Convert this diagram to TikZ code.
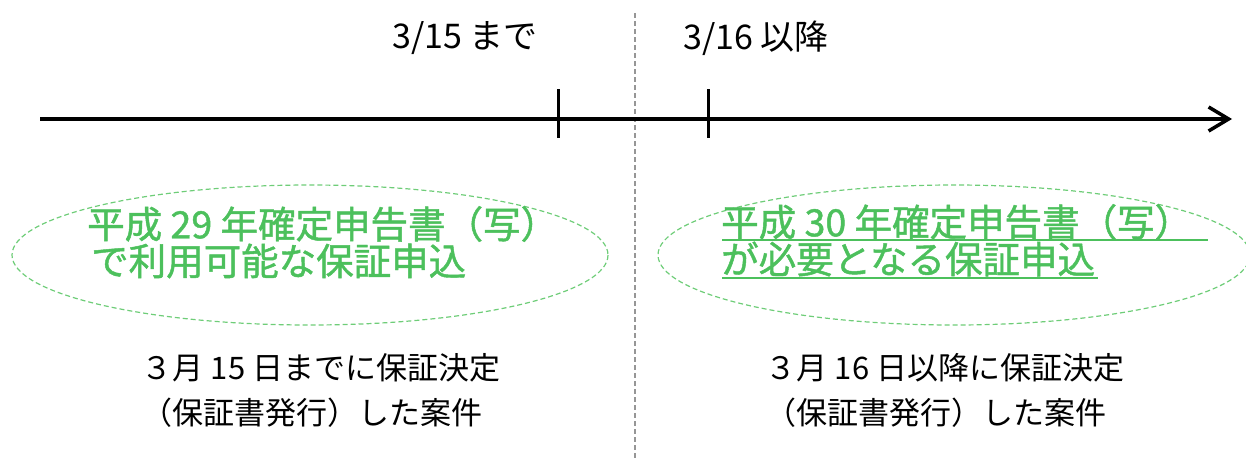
\documentclass[tikz,border=0pt]{standalone}
\usepackage{fontspec}
\setmainfont{Noto Sans CJK JP}
\newfontfamily\jpbold{Noto Sans CJK JP}[FakeBold=1.2]
\usetikzlibrary{arrows.meta}
\definecolor{tgreen}{RGB}{76,192,92}
\definecolor{egreen}{RGB}{110,205,120}
\definecolor{divgray}{RGB}{150,150,150}
\tikzset{
  axisline/.style={line width=3.5pt, -{Straight Barb[length=20pt,width=24pt,line width=3.5pt]}},
  tickline/.style={line width=3pt},
  divider/.style={draw=divgray, line width=1.5pt, dash pattern=on 5pt off 3pt},
  bubble/.style={draw=egreen, line width=1.2pt, dash pattern=on 5pt off 3pt},
  datelabel/.style={font=\fontsize{34}{34}\selectfont, text=black, inner sep=0pt},
  greentext/.style={font=\jpbold\fontsize{37.5}{37.5}\selectfont, text=tgreen, inner sep=0pt, anchor=west},
  casetext/.style={font=\fontsize{31}{31}\selectfont, text=black, inner sep=0pt},
  uline/.style={draw=tgreen, line width=2.5pt}
}
\begin{document}
\begin{tikzpicture}[x=1pt,y=-1pt]
\useasboundingbox (0,0) rectangle (1246,459);
% divider
\coordinate (dtop) at (635,13);
\coordinate (dbot) at (635,459);
\draw[divider] (dtop) -- (dbot);
% axis
\coordinate (astart) at (40,119);
\coordinate (aend) at (1232,119);
\draw[axisline] (astart) -- (aend);
\coordinate (t1a) at (558,89); \coordinate (t1b) at (558,138);
\coordinate (t2a) at (708,89); \coordinate (t2b) at (708,138);
\draw[tickline] (t1a) -- (t1b);
\draw[tickline] (t2a) -- (t2b);
% date labels
\node[datelabel] (d1) at (465,38) {3/15 まで};
\node[datelabel] (d2) at (756,38) {3/16 以降};
% ellipses
\draw[bubble] (310,255) ellipse [x radius=298, y radius=70];
\draw[bubble] (954,255) ellipse [x radius=296, y radius=70];
% green texts left
\node[greentext] (g1) at (87,224) {平成 29 年確定申告書（写）};
\node[greentext] (g2) at (91,261) {で利用可能な保証申込};
% green texts right
\node[greentext] (h1) at (721,222) {平成 30 年確定申告書（写）};
\node[greentext] (h2) at (721,259) {が必要となる保証申込};
\coordinate (u1a) at (722,240); \coordinate (u1b) at (1208,240);
\coordinate (u2a) at (722,278); \coordinate (u2b) at (1098,278);
\draw[uline] (u1a) -- (u1b);
\draw[uline] (u2a) -- (u2b);
% case texts
\node[casetext] (c1) at (321,368) {３月 15 日までに保証決定};
\node[casetext] (c2) at (312,413) {（保証書発行）した案件};
\node[casetext] (c3) at (945,368) {３月 16 日以降に保証決定};
\node[casetext] (c4) at (936,413) {（保証書発行）した案件};
\end{tikzpicture}
\end{document}
